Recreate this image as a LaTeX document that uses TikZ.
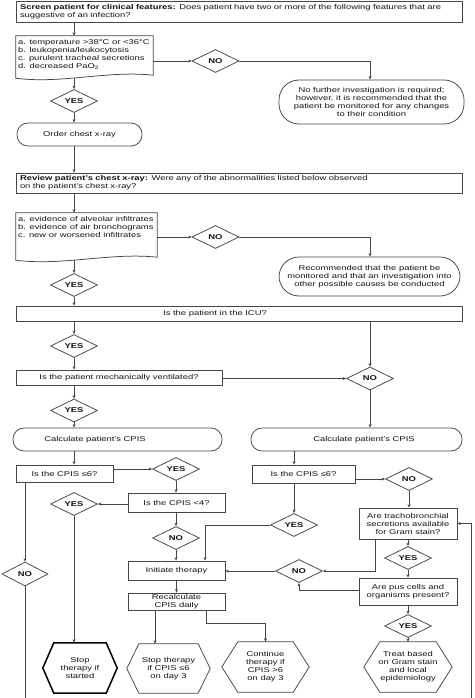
\documentclass[tikz,border=0pt]{standalone}
\usepackage{fontspec}
\setmainfont{Liberation Sans}[FakeStretch=1.345]
\usetikzlibrary{shapes.geometric,arrows.meta,calc}
\definecolor{lc}{RGB}{70,70,70}
\definecolor{tc}{RGB}{20,20,20}
\newcommand\hexout[3]{\draw[#3] (#1.west) -- ($(#1.north west)+(#2,0)$) -- ($(#1.north east)+(-#2,0)$) -- (#1.east) -- ($(#1.south east)+(-#2,0)$) -- ($(#1.south west)+(#2,0)$) -- cycle;}
\begin{document}
\begin{tikzpicture}[x=1pt,y=-1pt,
  every node/.style={font=\fontsize{7.0}{8}\selectfont, text=tc, inner sep=0pt},
  line/.style={draw=lc, line width=0.75pt},
  arr/.style={line, -{Stealth[length=3.5pt,width=3pt]}},
  box/.style={rectangle, draw=lc, line width=0.75pt, align=center},
  oval/.style={box, rounded corners=11},
  bigoval/.style={box, rounded corners=20},
  dia/.style={diamond, draw=lc, line width=0.75pt, aspect=2, minimum width=47, minimum height=23, font=\fontsize{7.0}{8}\selectfont\bfseries},
  hextext/.style={align=center},
  hexline/.style={line},
  hexbold/.style={draw=black, line width=1.5pt, line join=miter}
]
\useasboundingbox (0,0) rectangle (474,698);
\fill[white] (0,0) rectangle (474,698);

% top question
\node[box, minimum width=446, minimum height=21, text width=438, align=left] (top) at (239,11.5)
  {\textbf{Screen patient for clinical features:} Does patient have two or more of the following features that are\\suggestive of an infection?};

% list 1
\node[minimum width=137, minimum height=42] (list1) at (84.5,57) {};
\draw[line] (list1.north west) -- (list1.north east) -- ($(list1.south east)+(0,-3)$)
  .. controls ($(list1.south east)+(-45,-8)$) and ($(list1.south west)+(45,6)$) .. coordinate[pos=0.58] (w1) (list1.south west) -- cycle;
\node[anchor=north west, align=left] (list1t) at (18,39)
  {a. temperature >38°C or <36°C\\b. leukopenia/leukocytosis\\c. purulent tracheal secretions\\d. decreased PaO\textsubscript{2}};

\node[dia] (no1) at (215.5,61) {NO};
\node[bigoval, minimum width=185, minimum height=44] (oval1) at (371.5,102)
  {No further investigation is required;\\however, it is recommended that the\\patient be monitored for any changes\\to their condition};
\node[dia] (yes1) at (74,101) {YES};
\node[oval, minimum width=125, minimum height=23] (order) at (79.5,134.5) {Order chest x-ray};

\node[box, minimum width=446, minimum height=20, text width=438, align=left] (review) at (239,183)
  {\textbf{Review patient's chest x-ray:} Were any of the abnormalities listed below observed\\on the patient's chest x-ray?};

% list 2
\node[minimum width=141, minimum height=47] (list2) at (86.5,236.5) {};
\draw[line] (list2.north west) -- (list2.north east) -- ($(list2.south east)+(0,-3)$)
  .. controls ($(list2.south east)+(-46,-8)$) and ($(list2.south west)+(46,6)$) .. coordinate[pos=0.58] (w2) (list2.south west) -- cycle;
\node[anchor=north west, align=left] (list2t) at (18,216)
  {a. evidence of alveolar infiltrates\\b. evidence of air bronchograms\\c. new or worsened infiltrates};

\node[dia] (no2) at (215.5,237) {NO};
\node[bigoval, minimum width=181, minimum height=39] (oval2) at (369.5,276.5)
  {Recommended that the patient be\\monitored and that an investigation into\\other possible causes be conducted};
\node[dia] (yes2) at (74,285) {YES};

\node[box, minimum width=446, minimum height=15] (icu) at (239,313.5) {};
\node (icut) at (215,313.5) {Is the patient in the ICU?};
\node[dia] (yes3) at (74,346) {YES};
\node[dia] (no3) at (370,378.5) {NO};
\node[box, minimum width=206, minimum height=15] (mech) at (119,377.5) {Is the patient mechanically ventilated?};
\node[dia] (yes4) at (74,410.5) {YES};

\node[oval, minimum width=209, minimum height=23] (cpisl) at (117.5,439.5) {};
\node (cpislt) at (95,439.5) {Calculate patient's CPIS};
\node[oval, minimum width=211, minimum height=23] (cpisr) at (356.5,439.5) {};
\node (cpisrt) at (364,439.5) {Calculate patient's CPIS};

\node[box, minimum width=97, minimum height=17] (le6l) at (64.5,473.5) {Is the CPIS ≤6?};
\node[dia] (yes5) at (176,469) {YES};
\node[box, minimum width=97, minimum height=19] (lt4) at (176.5,502.5) {Is the CPIS <4?};
\node[box, minimum width=103, minimum height=18] (le6r) at (303.5,474) {Is the CPIS ≤6?};
\node[dia] (no4) at (409,479) {NO};
\node[dia] (yes6) at (74,504) {YES};
\node[dia, minimum width=46, minimum height=24] (no5) at (25,574) {NO};
\node[dia] (no6) at (176,538) {NO};
\node[box, minimum width=97, minimum height=19] (init) at (176.5,570.5) {Initiate therapy};
\node[dia] (yes7) at (294,525) {YES};
\node[box, minimum width=98, minimum height=31] (gram) at (408,523.5) {Are trachobronchial\\secretions available\\for Gram stain?};
\node[dia] (yes8) at (408,558) {YES};
\node[box, minimum width=98, minimum height=27] (pus) at (408,591.5) {Are pus cells and\\organisms present?};
\node[dia] (no7) at (299,571) {NO};
\node[box, minimum width=97, minimum height=17] (recalc) at (176.5,601.5) {Recalculate\\CPIS daily};
\node[dia] (yes9) at (408,626) {YES};

% hexagons
\node[hextext, minimum width=74, minimum height=50] (h1) at (80,668) {Stop\\therapy if\\started};
\hexout{h1}{11}{hexbold}
\node[hextext, minimum width=83, minimum height=49] (h2) at (168.5,668.5) {Stop therapy\\if CPIS ≤6\\on day 3};
\hexout{h2}{12}{hexline}
\node[hextext, minimum width=87, minimum height=50] (h3) at (265.5,667) {Continue\\therapy if\\CPIS >6\\on day 3};
\hexout{h3}{16}{hexline}
\node[hextext, minimum width=88, minimum height=50] (h4) at (408,667) {Treat based\\on Gram stain\\and local\\epidemiology};
\hexout{h4}{16}{hexline}

\coordinate (bl) at (25,698);
\coordinate (br) at (471,698);

% connectors
\draw[arr] (yes1.north |- top.south) -- (yes1.north |- list1.north);
\draw[arr] (no1.west -| list1.east) -- (no1.west);
\draw[arr] (no1.east) -| (oval1.north -| no3.north);
\draw[arr] (w1 -| yes1.north) -- (yes1.north);
\draw[arr] (yes1.south) -- (yes1.south |- order.north);
\draw[arr] (yes1.south |- order.south) -- (yes1.south |- review.north);
\draw[arr] (yes1.south |- review.south) -- (yes1.south |- list2.north);
\draw[arr] (no2.west -| list2.east) -- (no2.west);
\draw[arr] (no2.east) -| (oval2.north -| no3.north);
\draw[arr] (w2 -| yes2.north) -- (yes2.north);
\draw[arr] (yes2.south) -- (yes2.south |- icu.north);
\draw[arr] (yes3.north |- icu.south) -- (yes3.north);
\draw[arr] (yes3.south) -- (yes3.south |- mech.north);
\draw[arr] (no3.north |- icu.south) -- (no3.north);
\draw[arr] (no3.west -| mech.east) -- (no3.west);
\draw[arr] (yes4.north |- mech.south) -- (yes4.north);
\draw[arr] (yes4.south) -- (yes4.south |- cpisl.north);
\draw[arr] (no3.south) -- (no3.south |- cpisr.north);
\draw[arr] (yes4.south |- cpisl.south) -- (yes4.south |- le6l.north);
\draw[arr] (yes5.west -| le6l.east) -- (yes5.west);
\draw[arr] (yes5.south) -- (yes5.south |- lt4.north);
\draw[arr] (yes6.east -| lt4.west) -- (yes6.east);
\draw[arr] (yes6.south) -- (yes6.south |- h1.north);
\draw[arr] (no5.north |- le6l.south) -- (no5.north);
\draw[line] (no5.south) -- (bl);
\draw[arr] (no6.north |- lt4.south) -- (no6.north);
\draw[arr] (no6.south) -- (no6.south |- init.north);
\draw[arr] (yes7.north |- cpisr.south) -- (yes7.north |- le6r.north);
\draw[arr] (no4.west -| le6r.east) -- (no4.west);
\draw[arr] (no4.south) -- (no4.south |- gram.north);
\draw[arr] (yes7.north |- le6r.south) -- (yes7.north);
\draw[arr] (yes7.west) -| ([xshift=28.5pt]init.north);
\draw[arr] (yes8.north |- gram.south) -- (yes8.north);
\draw[arr] (yes8.south) -- (yes8.south |- pus.north);
\draw[arr] ([xshift=-33pt]gram.south) |- (no7.east);
\draw[arr] (no7.west) -- (no7.west -| init.east);
\draw[arr] ([yshift=1.5pt]pus.west) -| (no7.south);
\draw[arr] (init.south) -- (recalc.north);
\draw[arr] ([xshift=-21.5pt]recalc.south) -- ([xshift=-21.5pt]recalc.south |- h2.north);
\draw[arr] ([xshift=29.5pt]recalc.south) -- ++(0,13) -| (h3.north);
\draw[arr] (pus.south) -- (yes9.north);
\draw[arr] (yes9.south) -- (h4.north);
\draw[arr] (br) |- (gram.east);
\end{tikzpicture}
\end{document}
